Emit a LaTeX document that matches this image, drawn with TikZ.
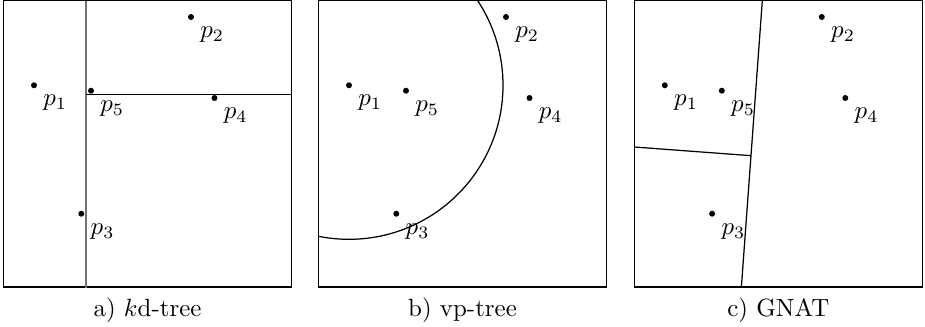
\documentclass[tikz,border=0pt]{standalone}
\usetikzlibrary{positioning,calc}
\begin{document}
\begin{tikzpicture}[
    x=0.4016pt, y=-0.4016pt,
    dot/.style={circle, fill, inner sep=0pt, minimum size=2.4pt},
    lbl/.style={inner sep=0pt, below right=2.8pt and 2.6pt of #1},
    frame/.style={draw, line width=0.5pt},
    cut/.style={line width=0.5pt},
  ]
  \useasboundingbox (0,0) rectangle (925,327);

  % three panels with the same five points
  \foreach \s/\dx/\cap in {a/3.5/{a) $k$d-tree}, b/318.5/{b) vp-tree}, c/634.3/{c) GNAT}} {
    \begin{scope}[xshift=\dx*0.4016pt]
      \coordinate (nw\s) at (0,0);
      \coordinate (se\s) at (288,287);
      \draw[frame] (nw\s) rectangle (se\s);

      \node[dot] (\s1) at (30.5,85.3) {};
      \node[dot] (\s2) at (187.5,17) {};
      \node[dot] (\s3) at (77.8,213.7) {};
      \node[dot] (\s4) at (211,98) {};
      \node[dot] (\s5) at (87.5,90.7) {};
      \foreach \i in {1,...,5}
        \node[lbl=\s\i] (l\s\i) {$p_\i$};

      \node[anchor=base] (cap\s) at (144,316.5) {\cap};
    \end{scope}
  }

  % a) kd-tree splits
  \coordinate (kdtop) at (86,1);
  \coordinate (kdbot) at (86,288);
  \coordinate (kdmid) at (86,94.7);
  \coordinate (kdend) at (291.5,94.7);
  \draw[black!55, line width=0.8pt] (kdtop) -- (kdbot);
  \draw[cut] (kdmid) -- (kdend);

  % b) vp-tree ball around p1
  \begin{scope}
    \clip (nwb) rectangle (seb);
    \draw[cut] (b1) circle[radius=61.85pt];
  \end{scope}

  % c) GNAT cells
  \coordinate (gtop) at (762.3,1);
  \coordinate (gbot) at (741.3,288);
  \coordinate (gleft) at (634.3,147);
  \coordinate (gjoin) at ($(gtop)!0.539!(gbot)$);
  \draw[cut] (gtop) -- (gbot);
  \draw[cut] (gleft) -- (gjoin);
\end{tikzpicture}
\end{document}
